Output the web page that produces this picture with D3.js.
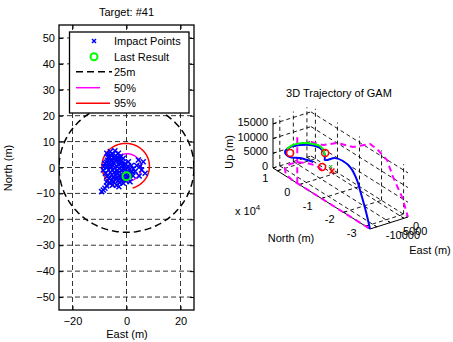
<!DOCTYPE html>
<html><head><meta charset="utf-8">
<script src="https://cdn.jsdelivr.net/npm/d3@7"></script>
<style>
body{margin:0;background:#fff}
svg{display:block}
text{font-family:"Liberation Sans",Arial,sans-serif;font-size:11px;fill:#000}
</style>
</head><body>
<svg id="c" width="453" height="342"></svg>
<script>
// ---------------- DATA ----------------
// Left panel (2D impact plot)
const title2D = "Target: #41";
const xTicks2D = [-20, 0, 20];
const yTicks2D = [-50, -40, -30, -20, -10, 0, 10, 20, 30, 40, 50];
const impactX = [-7.3,-6,-4.3,-3,-5.2,-6.5,-4,-2.2,-1.2,0.7,-8,-7,-5.5,-3.5,-2,-0.5,-6.5,-4.8,-3,-1.5,0.5,1.8,-8.6,-7.2,-5.8,-4.2,-2.6,-1,1,2.5,3.2,-7.3,-6,-4.6,-3.2,-1.8,-0.4,1.5,2.4,-6.5,-5,-3.8,-2.4,-1,0.6,1.3,-6.1,-4.8,-3.6,-2.4,-1.2,-7.3,-8,-8.6,-9.2,4.4,6.2,5.6,4.7,6.9,3.8,5,
  -6.8,-5.8,-4.6,-3.2,-2.6,-1.4,-4,-5.6,-7.4,-6.2,-5,-3.6,-2.2,-0.8,0.2,-1.8,-3.4,-5.2,-6.6,-7.8,-6.8,-5.4,-4,-2.6,-1.2,0.2,1.2,-5.6,-4.2,-3,-1.8,-0.2,-2.8,-5.2,0.8,2,-8.4,-7.4];
const impactY = [5.5,6.2,6.5,5.5,5,4.2,4.5,4.2,3.6,2.2,1.6,2.8,3.2,3,2.5,1.5,1.5,1.8,1.2,0.8,0.5,0.8,-1,0,0.3,-0.2,-0.4,-0.8,-1,-0.5,-1.5,-3.5,-2,-1.8,-2.2,-2.5,-2.8,-2.5,-3.2,-4.2,-3.8,-4.2,-4,-4.5,-4.2,-5.5,-6.1,-5.5,-6.8,-5.8,-6.1,-7.1,-8,-8.7,-9.3,2.9,2.2,-1,-3.3,-2.2,0.8,0.5,
  3.8,4.6,3.8,4,3,2,2.6,2.4,2,0.8,0.9,0.4,1.6,0.6,-0.2,-1,-1.2,-1,-1,-2.2,-3,-2.8,-3,-3.2,-3.6,-3.4,-3.2,-5,-4.8,-5,-4.8,-5.2,-7.4,-6.8,-1.8,-1.6,0.4,-5.6];
const lastResult = [0, -3.4];
const circle25 = [0, 0, 25];        // cx, cy, radius (m)
const circle50 = [0.2, 0, 5.3];
const circle95 = [-0.3, 0.5, 8.8];
const gap95 = [-114, -73];          // open part of 95% contour (deg)
const legendLabels = ["Impact Points", "Last Result", "25m", "50%", "95%"];

// Right panel (3D trajectory)
const title3D = "3D Trajectory of GAM";
const northTicks = [10000, 0, -10000, -20000, -30000];
const northTickLabels = ["1", "0", "-1", "-2", "-3"];
const eastTicks = [-10000, -5000, 0];
const upTicks = [0, 5000, 10000, 15000];
const northLim = [12000, -32000];
const eastLim = [-12500, 1500];
const upLim = [0, 17000];
// trajectory (N, E, U)
const trajN = [1000,4900,6900,10100,11700,11200,9700,6700,2600,-500,-5800,-11500,-17200,-21800,-25100,-28400,-30600,-32000];
const trajE = [-6600,-8300,-10400,-9600,-6500,-3300,-700,500,-1000,-3500,-4100,-5800,-7500,-9000,-10300,-11400,-12100,-12500];
const trajU = [5500,5500,5500,5500,5500,5500,5500,5500,5500,6000,9300,11500,12300,10800,8400,5100,2200,0];
// green segment
const greenN = [10300,11300,10700,8700,6700,3700,700];
const greenE = [-8800,-5700,-2500,-400,500,-500,-2600];
const greenU = [6200,6200,6200,6200,6200,6200,6200];
// red circle markers
const redN = [8800,3500,800];
const redE = [-8800,-200,-3500];
const redU = [5500,5500,3000];
const redX = [-1200,-1500,2000];
const greenX = [-300,-1200,3000];
// magenta projections
const wallN = [12000,6500,200,-7000,-14700,-17900,-22500,-25200,-29300,-32000];
const wallU = [4800,6300,10000,12000,16700,16500,14900,10400,5500,0];
const floorN = [3600,6300,9300,11200,11300,10200,7200,3500,-10000,-32000];
const floorE = [-1300,-900,-2200,-4300,-6800,-9600,-11700,-12500,-12500,-12500];
const vertN = [1000,1000];
const vertE = [-12500,-12500];
const vertU = [0,17000];

// ---------------- DRAW ----------------
const svg = d3.select("#c");
const defs = svg.append("defs");
defs.append("clipPath").attr("id","clip2").append("rect")
  .attr("x",59).attr("y",25).attr("width",135).attr("height",285);

const x2 = d3.scaleLinear().domain([-25,25]).range([59,194]);
const y2 = d3.scaleLinear().domain([-55,55]).range([310,25]);
const g2 = svg.append("g");

// grid
const grid = g2.append("g").attr("clip-path","url(#clip2)")
  .attr("stroke","#000").attr("stroke-width",0.8).attr("stroke-dasharray","5,3").attr("fill","none");
xTicks2D.forEach(t=>grid.append("line").attr("x1",x2(t)).attr("x2",x2(t)).attr("y1",25).attr("y2",310));
yTicks2D.forEach(t=>grid.append("line").attr("x1",59).attr("x2",194).attr("y1",y2(t)).attr("y2",y2(t)));

function circlePath(c, a0, a1){
  const pts = d3.range(a0, a1+0.5, 2).map(a=>{
    const r = a*Math.PI/180;
    return [x2(c[0]+c[2]*Math.cos(r)), y2(c[1]+c[2]*Math.sin(r))];
  });
  return d3.line()(pts);
}
const plot = g2.append("g").attr("clip-path","url(#clip2)");
plot.append("path").attr("d",circlePath(circle25,0,360)).attr("fill","none")
  .attr("stroke","#000").attr("stroke-width",1.5).attr("stroke-dasharray","7,4");
plot.append("path").attr("d",circlePath(circle50,0,360)).attr("fill","none")
  .attr("stroke","#ff00ff").attr("stroke-width",1.5);
plot.append("path").attr("d",circlePath(circle95,gap95[1],gap95[0]+360)).attr("fill","none")
  .attr("stroke","#ff0000").attr("stroke-width",1.5);

function xMark(g, cx, cy, s, color, w){
  g.append("path").attr("d",`M${cx-s},${cy-s}L${cx+s},${cy+s}M${cx-s},${cy+s}L${cx+s},${cy-s}`)
   .attr("stroke",color).attr("stroke-width",w).attr("fill","none");
}
const pts = plot.append("g");
impactX.forEach((v,i)=>xMark(pts, x2(v), y2(impactY[i]), 2.5, "#0000ff", 1.5));
plot.append("circle").attr("cx",x2(lastResult[0])).attr("cy",y2(lastResult[1])).attr("r",4)
  .attr("fill","none").attr("stroke","#00ff00").attr("stroke-width",2);

// axes
const ax = g2.append("g").attr("font-size",11);
ax.append("g").attr("transform","translate(0,310)")
  .call(d3.axisBottom(x2).tickValues(xTicks2D).tickSize(-4).tickSizeOuter(0).tickPadding(7));
ax.append("g").attr("transform","translate(0,25)")
  .call(d3.axisTop(x2).tickValues(xTicks2D).tickSize(-4).tickSizeOuter(0).tickFormat(""));
ax.append("g").attr("transform","translate(59,0)")
  .call(d3.axisLeft(y2).tickValues(yTicks2D).tickSize(-4).tickSizeOuter(0).tickPadding(4));
ax.append("g").attr("transform","translate(194,0)")
  .call(d3.axisRight(y2).tickValues(yTicks2D).tickSize(-4).tickSizeOuter(0).tickFormat(""));
ax.selectAll(".domain").remove();
ax.selectAll("text").attr("font-family","Liberation Sans, Arial, sans-serif").attr("font-size",11).attr("fill","#000");
g2.append("rect").attr("x",59).attr("y",25).attr("width",135).attr("height",285)
  .attr("fill","none").attr("stroke","#000").attr("stroke-width",1.3);

// labels
svg.append("text").attr("x",126.5).attr("y",16).attr("text-anchor","middle").text(title2D);
svg.append("text").attr("x",127).attr("y",338).attr("text-anchor","middle").text("East (m)");
svg.append("text").attr("transform","translate(12,168) rotate(-90)").attr("text-anchor","middle").text("North (m)");

// legend
const lg = svg.append("g");
lg.append("rect").attr("x",69.5).attr("y",32).attr("width",119.5).attr("height",81)
  .attr("fill","#fff").attr("stroke","#000").attr("stroke-width",1.3);
const rowY = [41,56.7,71.7,87.7,103.3];
legendLabels.forEach((t,i)=>lg.append("text").attr("x",114).attr("y",rowY[i]+4).text(t));
xMark(lg, 94, rowY[0], 2, "#0000ff", 1.5);
lg.append("circle").attr("cx",94).attr("cy",rowY[1]).attr("r",3.5).attr("fill","none").attr("stroke","#00ff00").attr("stroke-width",2);
lg.append("line").attr("x1",76).attr("x2",112).attr("y1",rowY[2]).attr("y2",rowY[2]).attr("stroke","#000").attr("stroke-width",1.5).attr("stroke-dasharray","7,4");
lg.append("line").attr("x1",76).attr("x2",100).attr("y1",rowY[3]).attr("y2",rowY[3]).attr("stroke","#ff00ff").attr("stroke-width",1.5);
lg.append("line").attr("x1",76).attr("x2",110).attr("y1",rowY[4]).attr("y2",rowY[4]).attr("stroke","#ff0000").attr("stroke-width",1.5);

// ---------------- 3D ----------------
const sN = d3.scaleLinear().domain(northLim).range([0,1]);
const sE = d3.scaleLinear().domain(eastLim).range([0,1]);
const sU = d3.scaleLinear().domain(upLim).range([0,1]);
const O = [273,168], vN = [97,61], vE = [38,-12], vU = [0,-50];
function P(n,e,u){
  const a=sN(n), b=sE(e), c=sU(u);
  return [O[0]+a*vN[0]+b*vE[0]+c*vU[0], O[1]+a*vN[1]+b*vE[1]+c*vU[1]];
}
const g3 = svg.append("g");
const line3 = d3.line();
const gr = g3.append("g").attr("stroke","#000").attr("stroke-width",0.9).attr("stroke-dasharray","4,3").attr("fill","none");
function seg(g, p, q){ g.append("path").attr("d", line3([p,q])); }
const [Nmax,Nmin] = northLim, [Emin,Emax] = eastLim, [Umin,Umax] = upLim;
// floor
northTicks.forEach(n=>seg(gr, P(n,Emin,Umin), P(n,Emax,Umin)));
eastTicks.forEach(e=>seg(gr, P(Nmax,e,Umin), P(Nmin,e,Umin)));
// back wall E = Emax
northTicks.forEach(n=>seg(gr, P(n,Emax,Umin), P(n,Emax,Umax)));
upTicks.forEach(u=>seg(gr, P(Nmax,Emax,u), P(Nmin,Emax,u)));
// back wall N = Nmax
eastTicks.forEach(e=>seg(gr, P(Nmax,e,Umin), P(Nmax,e,Umax)));
upTicks.forEach(u=>seg(gr, P(Nmax,Emin,u), P(Nmax,Emax,u)));

// axis lines
const al = g3.append("g").attr("stroke","#000").attr("stroke-width",1).attr("fill","none");
seg(al, P(Nmax,Emin,Umin), P(Nmin,Emin,Umin));
seg(al, P(Nmin,Emin,Umin), P(Nmin,Emax,Umin));
seg(al, P(Nmax,Emin,Umin), P(Nmax,Emin,Umax));
upTicks.forEach(u=>{const p=P(Nmax,Emin,u); seg(al,p,[p[0]+3,p[1]-1]);});
northTicks.forEach(n=>{const p=P(n,Emin,Umin); seg(al,p,[p[0]+3,p[1]-1]);});
eastTicks.forEach(e=>{const p=P(Nmin,e,Umin); seg(al,p,[p[0]-2.5,p[1]-1.5]);});

// magenta projections
const mg = g3.append("g").attr("stroke","#ff00ff").attr("stroke-width",2).attr("stroke-dasharray","6,4").attr("fill","none");
mg.append("path").attr("d", line3(wallN.map((n,i)=>P(n,Emax,wallU[i]))));
mg.append("path").attr("d", line3(floorN.map((n,i)=>P(n,floorE[i],Umin))));
mg.append("path").attr("d", line3(vertN.map((n,i)=>P(n,vertE[i],vertU[i]))));

// trajectory
const curve = d3.line().curve(d3.curveCatmullRom);
g3.append("path").attr("d", curve(trajN.map((n,i)=>P(n,trajE[i],trajU[i]))))
  .attr("fill","none").attr("stroke","#0000ff").attr("stroke-width",2);
g3.append("path").attr("d", curve(greenN.map((n,i)=>P(n,greenE[i],greenU[i]))))
  .attr("fill","none").attr("stroke","#00ff00").attr("stroke-width",2);
redN.forEach((n,i)=>{const p=P(n,redE[i],redU[i]);
  g3.append("circle").attr("cx",p[0]).attr("cy",p[1]).attr("r",3.5).attr("fill","none").attr("stroke","#ff0000").attr("stroke-width",1.5);});
{const p=P(...redX); xMark(g3,p[0],p[1],2.5,"#ff0000",1.5);}
{const p=P(...greenX); xMark(g3,p[0],p[1],1.5,"#00aa00",1);}

// tick labels
const tl = g3.append("g");
upTicks.forEach(u=>{const p=P(Nmax,Emin,u);
  tl.append("text").attr("x",p[0]-5).attr("y",p[1]+2).attr("text-anchor","end").text(String(u));});
northTicks.forEach((n,i)=>{const p=P(n,Emin,Umin);
  tl.append("text").attr("x",p[0]-9).attr("y",p[1]+11).attr("text-anchor","end").text(northTickLabels[i]);});
eastTicks.forEach(e=>{const p=P(Nmin,e,Umin);
  tl.append("text").attr("x",p[0]+9).attr("y",p[1]+12).attr("text-anchor","start").text(String(e));});
const mult = tl.append("text").attr("x",235).attr("y",215);
mult.append("tspan").text("x 10");
mult.append("tspan").attr("dy",-5).attr("font-size",8).text("4");

svg.append("text").attr("x",339).attr("y",97).attr("text-anchor","middle").text(title3D);
svg.append("text").attr("x",291).attr("y",242).attr("text-anchor","middle").text("North (m)");
svg.append("text").attr("x",430).attr("y",254).attr("text-anchor","middle").text("East (m)");
svg.append("text").attr("transform","translate(233,152) rotate(-90)").attr("text-anchor","middle").text("Up (m)");
</script>
</body></html>
